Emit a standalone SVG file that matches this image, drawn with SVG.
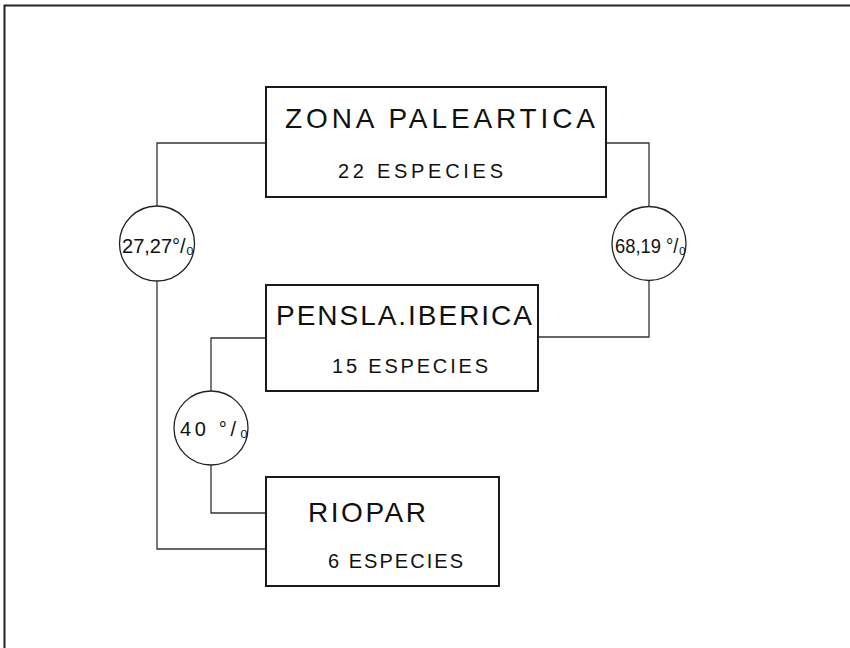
<svg xmlns="http://www.w3.org/2000/svg" width="850" height="648" viewBox="0 0 850 648">
<style>
.box{fill:#fff;stroke:#1a1a1a;stroke-width:2}
.circ{fill:#fff;stroke:#222;stroke-width:1.3}
.ln{fill:none;stroke:#333;stroke-width:1.3}
.frame{fill:none;stroke:#222;stroke-width:2}
text{font-family:"Liberation Sans","DejaVu Sans",sans-serif;fill:#111}
.t1{font-size:28px}
.t2{font-size:20px}
.tc{font-size:20px}
</style>
<rect width="850" height="648" fill="#fff"/>
<path class="frame" d="M4.5,648 V5.5 H850"/>
<g id="connectors">
<path class="ln" d="M266,143 H157 V206"/>
<path class="ln" d="M157,281 V549 H266"/>
<path class="ln" d="M606,143 H649 V206"/>
<path class="ln" d="M649,281 V337 H538"/>
<path class="ln" d="M266,338 H211 V391"/>
<path class="ln" d="M211,465 V513 H266"/>
</g>
<g id="zona">
<rect class="box" x="266" y="87" width="340" height="110"/>
<text class="t1" x="285" y="128" textLength="310" lengthAdjust="spacing">ZONA PALEARTICA</text>
<text class="t2" x="338" y="178" textLength="165" lengthAdjust="spacing">22 ESPECIES</text>
</g>
<g id="pensla">
<rect class="box" x="266" y="285" width="272" height="106"/>
<text class="t1" x="276" y="325" textLength="256" lengthAdjust="spacing">PENSLA.IBERICA</text>
<text class="t2" x="332" y="373" textLength="156" lengthAdjust="spacing">15 ESPECIES</text>
</g>
<g id="riopar">
<rect class="box" x="266" y="477" width="233" height="109"/>
<text class="t1" x="308" y="522" textLength="118" lengthAdjust="spacing">RIOPAR</text>
<text class="t2" x="328" y="568" textLength="135" lengthAdjust="spacing">6 ESPECIES</text>
</g>
<g id="c1">
<circle class="circ" cx="157" cy="243.5" r="37.5"/>
<text class="tc" x="122" y="253" textLength="72" lengthAdjust="spacingAndGlyphs">27,27°/₀</text>
</g>
<g id="c2">
<circle class="circ" cx="649" cy="243.5" r="37"/>
<text class="tc" x="615" y="253" textLength="71" lengthAdjust="spacingAndGlyphs">68,19 °/₀</text>
</g>
<g id="c3">
<circle class="circ" cx="211" cy="428" r="37"/>
<text class="tc" x="180" y="436" textLength="68" lengthAdjust="spacing">40 °/₀</text>
</g>
</svg>
